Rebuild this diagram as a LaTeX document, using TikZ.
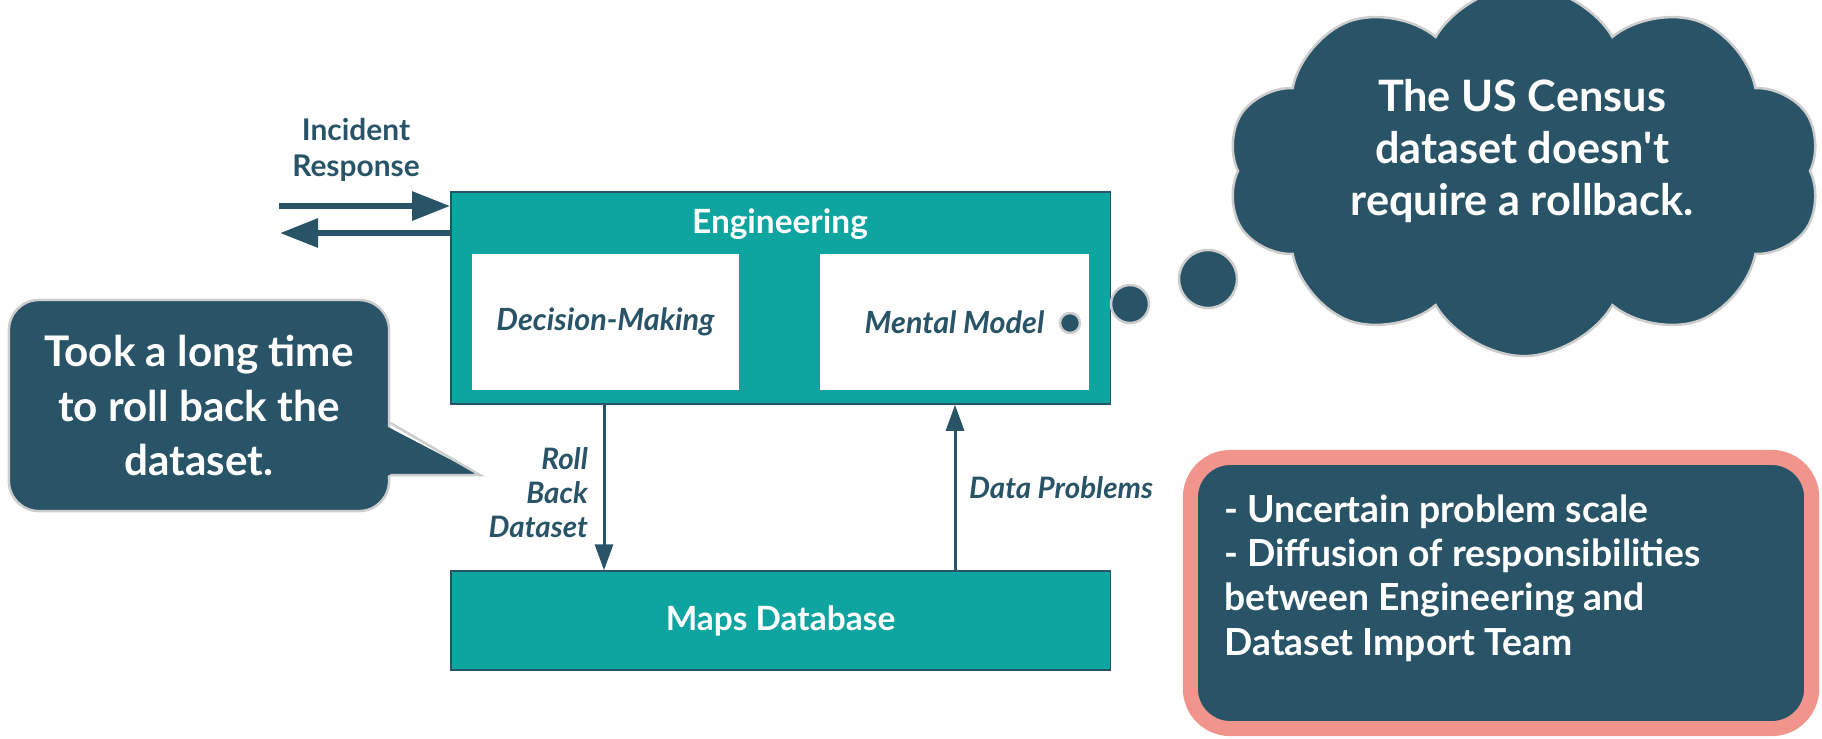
\documentclass[tikz,border=0pt]{standalone}
\usepackage{fontspec}
\setmainfont{Lato}
\usetikzlibrary{arrows.meta,shapes.symbols,positioning}
\definecolor{mapteal}{RGB}{14,164,159}
\definecolor{slate}{RGB}{41,84,104}
\definecolor{salmon}{RGB}{241,148,140}
\definecolor{puffgray}{RGB}{205,205,205}
\begin{document}
\begin{tikzpicture}[x=0.01cm, y=-0.01cm,
    box/.style={draw=slate, fill=mapteal, inner sep=0pt, minimum width=65.9mm, text=white, font=\bfseries\fontsize{9.5}{11}\selectfont},
    inbox/.style={fill=white, inner sep=0pt, minimum height=13.6mm, text=slate, font=\bfseries\itshape\fontsize{8.7}{11}\selectfont},
    lbl/.style={text=slate, inner sep=1pt, font=\bfseries\itshape\fontsize{8.4}{9.7}\selectfont},
    flow/.style={draw=slate, line width=0.3mm, -{Triangle[length=2.6mm,width=1.8mm]}},
    io/.style={draw=slate, line width=0.6mm, -{Triangle[length=3.8mm,width=2.8mm]}},
    bubble/.style={circle, fill=slate, draw=puffgray, line width=0.25mm, inner sep=0pt},
    say/.style={text=white, align=center, font=\bfseries\fontsize{12}{15.5}\selectfont}]
  \useasboundingbox (0,0) rectangle (1822,738);

  % engineering and the maps database
  \node[box, minimum height=21.2mm] (eng) at (780.5,298) {};
  \node[text=white, font=\bfseries\fontsize{9.5}{11}\selectfont] (englbl) at (780,224) {Engineering};
  \node[inbox, minimum width=26.7mm] (decide) at (605.5,322) {Decision-Making};
  \node[inbox, minimum width=26.9mm] (mental) at (954.5,322) {Mental Model};
  \node[box, minimum height=9.9mm] (maps) at (780.5,620.5) {Maps Database};

  % incident response
  \node[text=slate, align=center, font=\bfseries\fontsize{8.5}{10.4}\selectfont] (incident) at (356,150) {Incident\\Response};
  \coordinate (irin) at (279,206);
  \coordinate (irout) at (280,233);
  \draw[io] (irin) -- (eng.west |- irin);
  \draw[io] (eng.west |- irout) -- (irout);

  % flows between the boxes
  \coordinate (rb) at (604,0);
  \coordinate (dp) at (955,0);
  \draw[flow] (eng.south -| rb) -- (maps.north -| rb);
  \draw[flow] (maps.north -| dp) -- (eng.south -| dp);
  \node[lbl, anchor=east, align=right] (rblbl) at (592,493) {Roll\\Back\\Dataset};
  \node[lbl, anchor=west] (dplbl) at (965,488) {Data Problems};

  % callout
  \node[say, fill=slate, draw=puffgray, line width=0.25mm, rounded corners=3mm, minimum width=38mm, minimum height=21.1mm] (took) at (199,405.5) {Took a long time\\to roll back the\\dataset.};
  \coordinate (tip) at (480,475);
  \fill[slate] ([shift={(-1mm,-1.75mm)}]took.east) -- (tip) -- ([shift={(-1mm,-6.95mm)}]took.east) -- cycle;
  \draw[puffgray, line width=0.25mm] ([yshift=-1.75mm]took.east) -- (tip) -- ([yshift=-6.95mm]took.east);

  % thought
  \node[bubble, minimum size=2mm] (dot1) at (1070,323) {};
  \node[bubble, minimum size=3.8mm] (dot2) at (1130,304) {};
  \node[bubble, minimum size=5.8mm] (dot3) at (1208,279) {};
  \node[cloud, cloud puffs=10, cloud puff arc=120, aspect=1.7, fill=slate, draw=puffgray, line width=0.25mm, minimum width=59.4mm, minimum height=37mm] (cloud) at (1524,171) {};
  \node[say, font=\bfseries\fontsize{12.3}{14.8}\selectfont] (census) at (1522,151) {The US Census\\dataset doesn\textquotesingle t\\require a rollback.};

  % issues
  \node[draw=salmon, line width=1.5mm, fill=slate, rounded corners=4mm, minimum width=62.1mm, minimum height=27.1mm] (issues) at (1501,593) {};
  \node[text=white, anchor=west, align=left, font=\bfseries\fontsize{10.6}{12.6}\selectfont] (issuelist) at (1212,578) {- Uncertain problem scale\\- Diffusion of responsibilities\\between Engineering and\\Dataset Import Team};
\end{tikzpicture}
\end{document}
